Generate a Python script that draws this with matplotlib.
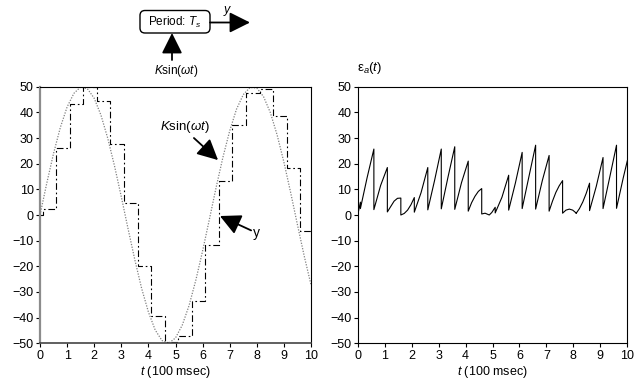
import numpy as np
import matplotlib
matplotlib.use("Agg")
import matplotlib.pyplot as plt
from matplotlib.patches import FancyBboxPatch

plt.rcParams['font.family'] = ['Liberation Sans', 'DejaVu Sans']
plt.rcParams['mathtext.fontset'] = 'custom'
plt.rcParams['mathtext.rm'] = 'Liberation Sans'
plt.rcParams['mathtext.it'] = 'Liberation Sans:italic'

# --------------------------- data ---------------------------

# K sin(wt), K = 50, sampled every 0.25 (t in 100 msec)
sine_t = np.linspace(0, 10, 41)
sine_v = [0.0, 12.4, 24.0, 34.1, 42.1, 47.4, 49.9, 49.2, 45.5, 38.9,
          29.9, 19.1, 7.1, -5.4, -17.5, -28.6, -37.8, -44.8, -48.9, -50.0,
          -47.9, -42.9, -35.3, -25.4, -14.0, -1.7, 10.8, 22.5, 32.8, 41.2,
          46.9, 49.7, 49.5, 46.1, 39.9, 31.2, 20.6, 8.7, -3.8, -16.0, -27.2]

# sample-and-hold output y: switching times and held values
hold_t = [0.0, 0.1, 0.6, 1.1, 1.6, 2.1, 2.6, 3.1, 3.6, 4.1, 4.6,
          5.1, 5.6, 6.1, 6.6, 7.1, 7.6, 8.1, 8.6, 9.1, 9.6, 10.0]
hold_v = [0.0, 2.5, 26.1, 43.4, 50.0, 44.3, 27.8, 4.5, -19.9, -39.4, -49.3,
          -47.1, -33.5, -11.6, 13.3, 35.0, 47.7, 49.1, 38.4, 18.5, -6.1, -6.1]

# absolute error eps_a(t)
err_t = [0, 0.1, 0.1, 0.35, 0.6,
         0.6, 0.85, 1.1,
         1.1, 1.35, 1.475, 1.6,
         1.6, 1.725, 1.85, 1.975, 2.1,
         2.1, 2.35, 2.6,
         2.6, 2.85, 3.1,
         3.1, 3.35, 3.6,
         3.6, 3.85, 4.1,
         4.1, 4.225, 4.35, 4.475, 4.6,
         4.6, 4.725, 4.88, 4.975, 5.1,
         5.1, 5.35, 5.6,
         5.6, 5.85, 6.1,
         6.1, 6.35, 6.6,
         6.6, 6.85, 7.1,
         7.1, 7.225, 7.35, 7.475, 7.6,
         7.6, 7.725, 7.85, 7.975, 8.1,
         8.1, 8.225, 8.35, 8.475, 8.6,
         8.6, 8.85, 9.1,
         9.1, 9.35, 9.6,
         9.6, 9.85, 10]
err_v = [0, 5.0, 2.5, 14.6, 25.7,
         2.1, 11.5, 18.5,
         1.2, 5.4, 6.5, 6.6,
         0.0, 0.6, 1.9, 4.0, 6.8,
         1.1, 8.7, 18.5,
         2.0, 13.4, 25.7,
         2.4, 14.8, 26.6,
         2.2, 12.6, 21.0,
         1.5, 4.8, 7.3, 9.2, 10.3,
         0.4, 0.7, 0.0, 1.0, 3.0,
         0.8, 6.9, 15.5,
         1.9, 12.5, 24.4,
         2.5, 14.9, 27.2,
         2.3, 13.5, 23.2,
         1.5, 5.4, 8.8, 11.4, 13.4,
         0.7, 1.9, 2.3, 1.9, 0.8,
         0.6, 2.5, 5.1, 8.4, 12.4,
         1.7, 11.2, 22.4,
         2.5, 14.8, 27.2,
         2.6, 14.5, 21.1]

x_ticks = list(range(0, 11))
y_ticks = list(range(-50, 51, 10))

# ------------------------------ figure ------------------------------

W, H = 637, 381
fig = plt.figure(figsize=(W / 100, H / 100), dpi=100)


def _px_axes(x0, y0, x1, y1):
    """Axes from pixel box (top-left origin)."""
    return fig.add_axes([x0 / W, 1 - y1 / H, (x1 - x0) / W, (y1 - y0) / H])


def _style(ax):
    ax.set_xlim(0, 10)
    ax.set_ylim(-50, 50)
    ax.set_xticks(x_ticks)
    ax.set_yticks(y_ticks)
    ax.tick_params(direction='out', length=3, width=0.8, labelsize=9, pad=1.5)
    for s in ax.spines.values():
        s.set_linewidth(0.8)
        s.set_color('black')
    ax.set_xlabel(r'$t$ (100 msec)', fontsize=9, labelpad=1.5)


ax1 = _px_axes(40, 86.7, 311, 343.3)
ax2 = _px_axes(357.7, 86.7, 627.3, 343.3)

# left: input and sampled output
ax1.plot(sine_t, sine_v, color='#808080', lw=0.9, linestyle=(0, (1, 1.2)))
ax1.step(hold_t, hold_v, where='post', color='black', lw=0.8,
         linestyle=(0, (6, 2.5, 1.5, 2.5)))
_style(ax1)
ax1.spines['left'].set_color('#8c8c8c')
ax1.spines['left'].set_linewidth(1.6)
ax1.spines['bottom'].set_color('#444444')
ax1.spines['bottom'].set_linewidth(1.2)

arrow_kw = dict(arrowstyle='-|>,head_length=0.9,head_width=0.45',
                color='black', lw=1.3, mutation_scale=14, shrinkA=0, shrinkB=0)
ax1.text(5.35, 34.3, r'$K\mathrm{sin}(\omega t)$', fontsize=9.5, ha='center', va='center')
ax1.annotate('', xy=(6.57, 21.4), xytext=(5.68, 30.0), arrowprops=arrow_kw)
ax1.text(8.0, -7.0, 'y', fontsize=10, ha='center', va='center')
ax1.annotate('', xy=(6.64, -0.4), xytext=(7.79, -6.0), arrowprops=arrow_kw)

# right: absolute error
ax2.plot(err_t, err_v, color='black', lw=0.8)
_style(ax2)
fig.text(357 / W, 1 - 68 / H, r'$\mathrm{ε}_{a}(t)$', fontsize=9.5, ha='left', va='center')

# ------------------------------ block diagram on top ------------------------------

ov = fig.add_axes([0, 0, 1, 1])
ov.set_xlim(0, W)
ov.set_ylim(H, 0)
ov.axis('off')
ov.patch.set_alpha(0)

ov.add_patch(FancyBboxPatch((140, 10.5), 70, 22.5, boxstyle='round,pad=0,rounding_size=5',
                            fc='white', ec='black', lw=1.0))
ov.text(175, 22.5, r'Period: $T_s$', fontsize=8.5, ha='center', va='center')
ov.annotate('', xy=(250, 22.5), xytext=(210, 22.5), arrowprops=arrow_kw)
ov.text(228, 11, r'$y$', fontsize=9, ha='center', va='center')
ov.annotate('', xy=(172, 33), xytext=(172, 60), arrowprops=arrow_kw)
ov.text(176, 71, r'$K\mathrm{sin}(\omega t)$', fontsize=8.5, ha='center', va='center')

fig.savefig('out.png', dpi=100)
